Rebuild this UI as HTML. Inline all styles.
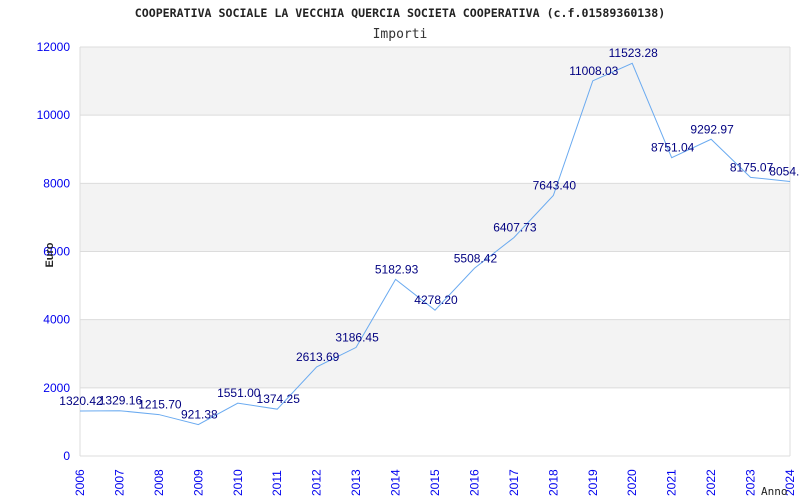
<!DOCTYPE html>
<html><head><meta charset="utf-8"><style>
html,body{margin:0;padding:0;background:#fff;width:800px;height:500px;overflow:hidden}
svg{display:block}
</style></head><body>
<svg id="chart" width="800" height="500" xmlns="http://www.w3.org/2000/svg">
<text x="400" y="17" text-anchor="middle" font-family="DejaVu Sans Mono, Liberation Mono, monospace" font-size="11.6" font-weight="bold" fill="#222">COOPERATIVA SOCIALE LA VECCHIA QUERCIA SOCIETA COOPERATIVA (c.f.01589360138)</text>
<text x="400" y="38" text-anchor="middle" font-family="DejaVu Sans Mono, Liberation Mono, monospace" font-size="13" fill="#333">Importi</text>
<g id="bands"></g><g id="grid"></g><g id="yticks"></g><g id="xticks"></g><g id="series"></g><g id="labels"></g>
<text transform="translate(53,255) rotate(-90)" text-anchor="middle" font-family="Liberation Sans, sans-serif" font-size="11" font-weight="bold" fill="#222">Euro</text>
<text x="761" y="495" font-family="DejaVu Sans Mono, Liberation Mono, monospace" font-size="11" fill="#222">Anno</text>
</svg>
<script>
const years=[2006,2007,2008,2009,2010,2011,2012,2013,2014,2015,2016,2017,2018,2019,2020,2021,2022,2023,2024];
const values=[1320.42,1329.16,1215.70,921.38,1551.00,1374.25,2613.69,3186.45,5182.93,4278.20,5508.42,6407.73,7643.40,11008.03,11523.28,8751.04,9292.97,8175.07,8054.9];
const valueLabels=["1320.42","1329.16","1215.70","921.38","1551.00","1374.25","2613.69","3186.45","5182.93","4278.20","5508.42","6407.73","7643.40","11008.03","11523.28","8751.04","9292.97","8175.07","8054.90"];
const yTicks=[0,2000,4000,6000,8000,10000,12000];
const NS="http://www.w3.org/2000/svg";
const X0=80,X1=790,Y0=456,Y1=47,YMAX=12000;
const xs=i=>X0+(X1-X0)*i/(years.length-1);
const ys=v=>Y0-(Y0-Y1)*v/YMAX;
function mk(t,a,p){const e=document.createElementNS(NS,t);for(const k in a)e.setAttribute(k,a[k]);document.getElementById(p).appendChild(e);return e;}
for(let i=0;i<yTicks.length-1;i++){
  const b=mk('rect',{x:X0,y:ys(yTicks[i+1]),width:X1-X0,height:ys(yTicks[i])-ys(yTicks[i+1]),fill:(i%2==1)?'#f3f3f3':'#ffffff'},'bands');
  
  
}
yTicks.forEach(t=>{
  const l=mk('line',{x1:X0,x2:X1,y1:ys(t),y2:ys(t),stroke:'#dcdcdc','stroke-width':1},'grid');
  
  
  const tx=mk('text',{x:70,y:ys(t)+4,'text-anchor':'end','font-family':'Liberation Sans, sans-serif','font-size':12,fill:'#0000ee'},'yticks');
  tx.textContent=t;
  
  
});
const ax=mk('line',{x1:X0,x2:X0,y1:Y1,y2:Y0,stroke:'#dcdcdc'},'grid');


const ax2=mk('line',{x1:X1,x2:X1,y1:Y1,y2:Y0,stroke:'#dcdcdc'},'grid');


years.forEach((y,i)=>{
  const x=xs(i);
  const t=mk('text',{transform:`translate(${x+4},${Y0+40}) rotate(-90)`,'font-family':'Liberation Sans, sans-serif','font-size':12,fill:'#0000ee'},'xticks');
  t.textContent=y;
  
  
});
const pts=values.map((v,i)=>xs(i)+','+ys(v)).join(' ');
const pl=mk('polyline',{points:pts,fill:'none',stroke:'#6aaaf0','stroke-width':1},'series');


values.forEach((v,i)=>{
  const t=mk('text',{x:xs(i)+1,y:ys(v)-6,'text-anchor':'middle','font-family':'Liberation Sans, sans-serif','font-size':12,fill:'#000080'},'labels');
  t.textContent=valueLabels[i];
  
  
});
</script>
</body></html>
